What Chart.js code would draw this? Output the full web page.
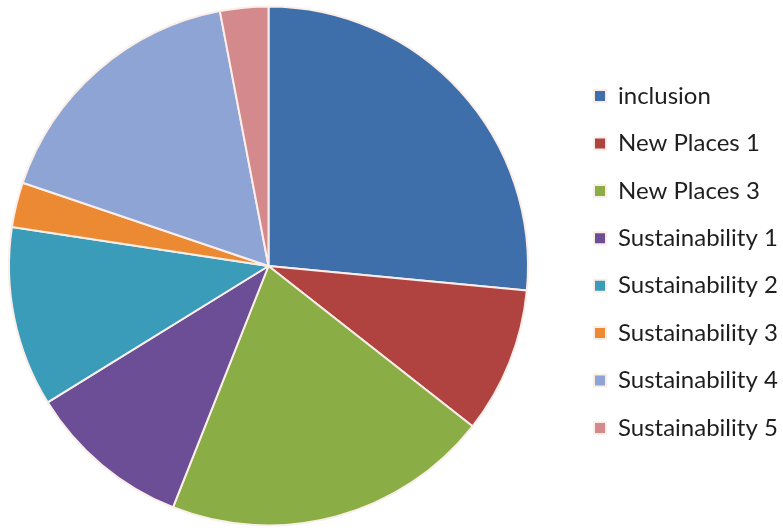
<!DOCTYPE html>
<html lang="en">
<head>
    <meta charset="UTF-8">
    <title>Pie chart</title>
    <script src="https://cdn.jsdelivr.net/npm/chart.js"></script>
    <style>
        html, body { margin: 0; padding: 0; background: #ffffff; }
        #wrap { width: 783px; height: 531px; }
    </style>
</head>
<body>
    <div id="wrap"><canvas id="pieChart" width="783" height="531"></canvas></div>
    <script>
        // datos (porcentajes aproximados)
        const categories = ['inclusion', 'New Places 1', 'New Places 3', 'Sustainability 1',
            'Sustainability 2', 'Sustainability 3', 'Sustainability 4', 'Sustainability 5'];
        const values = [26.5, 9.1, 20.4, 10.2, 11.2, 2.8, 16.8, 3.0];
        const colors = ['#3f6faa', '#b04240', '#8aae45', '#6b4e95', '#3a9cb8', '#eb8a33', '#8da4d5', '#d4898c'];

        // coloca el area del pastel y la leyenda como en la imagen
        const placePlugin = {
            id: 'place',
            afterLayout(chart) {
                const a = chart.chartArea;
                a.left = 8; a.right = 529; a.top = 5; a.bottom = 527;
                a.width = a.right - a.left; a.height = a.bottom - a.top;
                const lg = chart.legend;
                const pad = lg.options.labels.padding;
                const dx = 594 - (lg.left + pad);
                lg.left += dx; lg.right += dx;
                lg.top -= 4; lg.bottom -= 4;
            }
        };

        new Chart(document.getElementById('pieChart'), {
            type: 'pie',
            data: {
                labels: categories,
                datasets: [{
                    data: values,
                    backgroundColor: colors,
                    borderColor: '#fbeee8',
                    borderWidth: 2,
                    clip: false
                }]
            },
            options: {
                responsive: false,
                animation: false,
                layout: { padding: { left: 8, top: 5, bottom: 4, right: 0 } },
                plugins: {
                    legend: {
                        position: 'right',
                        labels: {
                            boxWidth: 12,
                            boxHeight: 12,
                            padding: 23.4,
                            color: '#1e1e1e',
                            font: { family: 'Lato', size: 24, lineHeight: 1 }
                        }
                    },
                    tooltip: { enabled: false }
                }
            },
            plugins: [placePlugin]
        });
    </script>
</body>
</html>
